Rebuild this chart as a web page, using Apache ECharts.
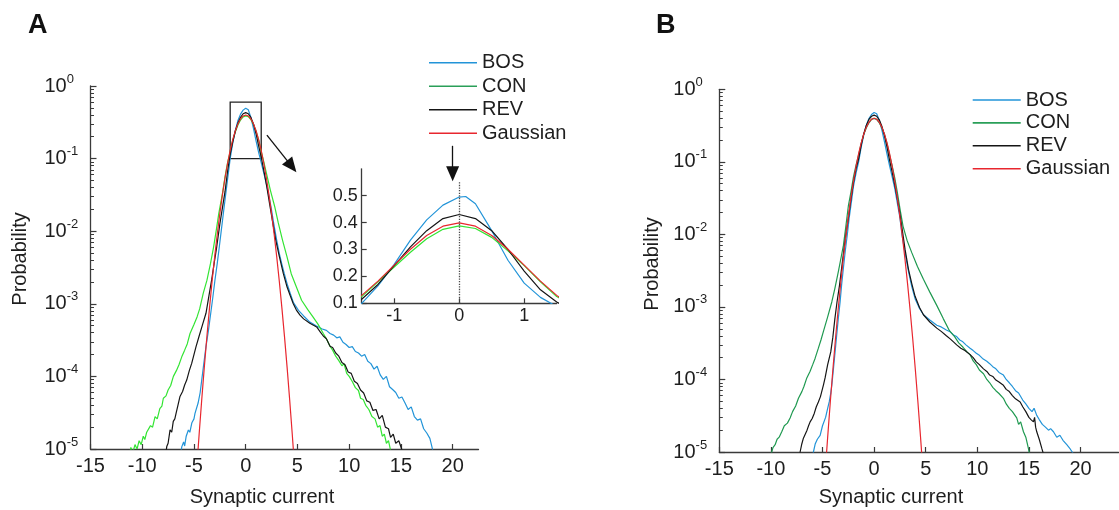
<!DOCTYPE html>
<html>
<head>
<meta charset="utf-8">
<script src="https://cdn.jsdelivr.net/npm/echarts@6/dist/echarts.min.js"></script>
<style>
  html, body { margin: 0; padding: 0; background: #fff; }
  #main { width: 1119px; height: 510px; }
</style>
</head>
<body>
<div id="main"></div>
<script>
// tick values
const xTicks = [-15, -10, -5, 0, 5, 10, 15, 20];
const decades = [1e-5, 1e-4, 1e-3, 1e-2, 1e-1, 1];
const insetXTicks = [-1, 0, 1];
const insetYTicks = [0.1, 0.2, 0.3, 0.4, 0.5];
const seriesNames = ['BOS', 'CON', 'REV', 'Gaussian'];

// Gaussian reference (same in both panels)
const gaussian = [[-4.75,5.05e-6],[-4.5,1.60e-5],[-4.25,4.78e-5],[-4,1.34e-4],[-3.75,3.53e-4],[-3.5,8.73e-4],
  [-3.25,2.03e-3],[-3,4.43e-3],[-2.75,9.09e-3],[-2.5,0.0175],[-2.25,0.0317],[-2,0.054],[-1.75,0.0863],
  [-1.5,0.1295],[-1.25,0.1826],[-1,0.242],[-0.75,0.3011],[-0.5,0.3521],[-0.25,0.3867],[0,0.3989],
  [0.25,0.3867],[0.5,0.3521],[0.75,0.3011],[1,0.242],[1.25,0.1826],[1.5,0.1295],[1.75,0.0863],[2,0.054],
  [2.25,0.0317],[2.5,0.0175],[2.75,9.09e-3],[3,4.43e-3],[3.25,2.03e-3],[3.5,8.73e-4],[3.75,3.53e-4],
  [4,1.34e-4],[4.25,4.78e-5],[4.5,1.60e-5],[4.75,5.05e-6]];

// panel A
const bosA = [[-6.3,8e-6],[-6.18,1.07e-5],[-6.0,1.25e-5],[-5.9,1.1e-5],[-5.75,1.5e-5],[-5.54,1.83e-5],[-5.4,1.7e-5],
  [-5.2,2.3e-5],[-5.0,2.6e-5],[-4.9,3.1e-5],[-4.75,3.0e-5],[-4.6,4.3e-5],[-4.51,4.3e-5],[-4.4,6.0e-5],[-4.25,8.9e-5],
  [-4.05,1.5e-4],[-3.84,2.57e-4],[-3.6,4.3e-4],[-3.38,7.4e-4],[-3.17,1.25e-3],[-2.97,2.13e-3],[-2.75,3.6e-3],
  [-2.55,6.1e-3],[-2.35,0.0105],[-2.16,0.0176],[-2.0,0.027],[-1.75,0.052],[-1.5,0.1],[-1.25,0.165],[-1,0.245],
  [-0.75,0.335],[-0.5,0.41],[-0.25,0.465],[0,0.495],[0.1,0.497],[0.25,0.47],[0.5,0.37],[0.75,0.26],[1,0.175],
  [1.25,0.122],[1.5,0.088],[1.75,0.063],[2.0,0.045],[2.25,0.03],[2.44,0.022],[2.7,0.013],[2.99,0.0076],[3.25,0.0049],
  [3.5,0.0035],[3.73,0.0026],[4.0,0.0019],[4.3,0.0014],[4.6,0.00105],[5.1,8.1e-4],[5.6,6.8e-4],[6.2,5.6e-4],
  [6.8,5.0e-4],[7.4,4.5e-4],[7.8,4.3e-4],[8.15,3.9e-4],[8.5,3.7e-4],[8.8,3.4e-4],[9.1,3.5e-4],[9.4,2.95e-4],
  [9.7,2.75e-4],[10.0,2.5e-4],[10.3,2.57e-4],[10.6,2.2e-4],[10.9,2.1e-4],[11.2,1.9e-4],[11.5,2.0e-4],[11.8,1.62e-4],
  [12.1,1.5e-4],[12.4,1.26e-4],[12.7,1.38e-4],[13.0,1.05e-4],[13.3,9.1e-5],[13.6,1.0e-4],[13.9,7.2e-5],[14.2,6.6e-5],
  [14.5,6.0e-5],[14.8,5.0e-5],[15.1,5.2e-5],[15.4,4.3e-5],[15.7,3.5e-5],[16.0,3.8e-5],[16.3,2.8e-5],[16.6,2.5e-5],
  [16.9,2.6e-5],[17.2,1.9e-5],[17.5,1.66e-5],[17.8,1.4e-5],[18.0,1.07e-5],[18.2,8e-6]];
const conA = [[-11.25,8e-6],[-11.1,1.05e-5],[-10.9,9e-6],[-10.7,1.15e-5],[-10.5,1.0e-5],[-10.3,1.3e-5],[-10.1,1.15e-5],
  [-9.9,1.5e-5],[-9.75,1.35e-5],[-9.57,1.7e-5],[-9.4,1.6e-5],[-9.2,2.1e-5],[-9.0,2.0e-5],[-8.76,2.8e-5],[-8.55,2.6e-5],
  [-8.3,3.6e-5],[-8.1,3.9e-5],[-7.96,5.0e-5],[-7.7,5.4e-5],[-7.5,6.5e-5],[-7.25,7.5e-5],[-6.99,1.0e-4],[-6.7,1.2e-4],
  [-6.45,1.45e-4],[-6.18,1.86e-4],[-5.9,2.3e-4],[-5.65,2.8e-4],[-5.38,3.9e-4],[-5.0,5.2e-4],[-4.7,6.6e-4],
  [-4.45,8.5e-4],[-4.1,1.4e-3],[-3.75,2.1e-3],[-3.4,3.6e-3],[-3.1,6.1e-3],[-2.85,0.0102],[-2.6,0.0176],[-2.25,0.033],
  [-2.0,0.056],[-1.75,0.088],[-1.5,0.125],[-1.25,0.18],[-1,0.235],[-0.75,0.29],[-0.5,0.34],[-0.25,0.375],[0,0.388],
  [0.25,0.378],[0.5,0.345],[0.75,0.295],[1,0.24],[1.25,0.18],[1.5,0.125],[1.75,0.09],[2.0,0.063],[2.4,0.036],
  [2.8,0.0219],[3.15,0.013],[3.55,0.0076],[4.0,0.0044],[4.4,0.0026],[4.9,0.0017],[5.4,0.00112],[6.0,8.3e-4],
  [6.5,6.6e-4],[7.0,5.2e-4],[7.5,3.9e-4],[7.8,3.3e-4],[8.15,2.6e-4],[8.4,2.3e-4],[8.7,1.9e-4],[9.0,1.65e-4],
  [9.3,1.4e-4],[9.5,1.5e-4],[9.76,1.1e-4],[10.0,1.0e-4],[10.3,8.5e-5],[10.6,7.0e-5],[10.9,6.4e-5],[11.1,5.0e-5],
  [11.36,4.8e-5],[11.6,4.0e-5],[11.9,3.5e-5],[12.2,2.8e-5],[12.5,2.6e-5],[12.75,2.0e-5],[12.98,2.1e-5],[13.2,1.5e-5],
  [13.4,1.6e-5],[13.6,1.2e-5],[13.8,1.3e-5],[13.94,1.05e-5],[14.1,8e-6]];
const revA = [[-7.75,8e-6],[-7.63,1.08e-5],[-7.5,1.2e-5],[-7.31,1.83e-5],[-7.15,1.7e-5],[-7.0,2.4e-5],[-6.85,2.6e-5],
  [-6.73,3.1e-5],[-6.55,4.0e-5],[-6.35,5.3e-5],[-6.1,6.2e-5],[-5.9,7.6e-5],[-5.7,8.9e-5],[-5.45,1.2e-4],[-5.22,1.51e-4],
  [-5.0,2.0e-4],[-4.8,2.57e-4],[-4.5,3.6e-4],[-4.2,5.0e-4],[-3.84,7.4e-4],[-3.55,1.3e-3],[-3.29,2.13e-3],[-3.05,3.6e-3],
  [-2.8,6.1e-3],[-2.5,0.0125],[-2.25,0.021],[-2.0,0.035],[-1.75,0.067],[-1.5,0.115],[-1.25,0.17],[-1,0.24],[-0.75,0.31],
  [-0.5,0.37],[-0.25,0.415],[0,0.43],[0.25,0.415],[0.5,0.37],[0.75,0.30],[1,0.22],[1.25,0.15],[1.5,0.105],[1.8,0.063],
  [2.05,0.04],[2.35,0.022],[2.6,0.0135],[2.9,0.0076],[3.25,0.0045],[3.64,0.0026],[4.0,0.0017],[4.3,0.0013],[4.6,0.001],
  [4.9,8.2e-4],[5.25,7.0e-4],[5.6,6.2e-4],[6.2,5.4e-4],[6.86,4.8e-4],[7.2,4.1e-4],[7.5,3.6e-4],[7.8,3.3e-4],
  [8.15,2.6e-4],[8.4,2.5e-4],[8.7,2.1e-4],[9.0,1.9e-4],[9.3,1.55e-4],[9.6,1.45e-4],[9.9,1.15e-4],[10.2,1.1e-4],
  [10.5,8.6e-5],[10.8,8.0e-5],[11.1,6.5e-5],[11.4,5.9e-5],[11.7,4.6e-5],[12.0,4.4e-5],[12.3,3.4e-5],[12.6,3.5e-5],
  [12.9,2.6e-5],[13.2,2.9e-5],[13.5,2.0e-5],[13.8,1.9e-5],[14.0,1.45e-5],[14.26,1.6e-5],[14.5,1.2e-5],[14.8,1.3e-5],
  [15.07,1.0e-5],[15.2,8e-6]];

// panel B
const bosB = [[-5.95,8.5e-6],[-5.88,1.0e-5],[-5.7,1.3e-5],[-5.5,1.5e-5],[-5.23,1.7e-5],[-5.0,2.3e-5],[-4.85,2.4e-5],
  [-4.7,3.0e-5],[-4.5,4.0e-5],[-4.35,4.9e-5],[-4.2,6.5e-5],[-4.1,8.3e-5],[-3.95,1.35e-4],[-3.78,2.4e-4],[-3.63,4.0e-4],
  [-3.47,6.9e-4],[-3.3,1.15e-3],[-3.15,2.0e-3],[-2.98,3.4e-3],[-2.8,5.8e-3],[-2.6,0.0098],[-2.42,0.0166],[-2.2,0.028],
  [-2.0,0.046],[-1.75,0.07],[-1.5,0.1],[-1.25,0.16],[-1.0,0.235],[-0.75,0.32],[-0.5,0.395],[-0.25,0.45],[0,0.478],
  [0.1,0.48],[0.25,0.46],[0.5,0.375],[0.75,0.275],[1.0,0.19],[1.25,0.128],[1.5,0.088],[1.75,0.062],[2.0,0.043],
  [2.25,0.027],[2.5,0.017],[2.7,0.0098],[3.0,0.0055],[3.33,0.0031],[3.65,0.0019],[3.97,0.0013],[4.4,9.5e-4],
  [4.78,7.8e-4],[5.4,6.6e-4],[6.07,5.6e-4],[6.5,5.3e-4],[7.0,4.8e-4],[7.4,4.5e-4],[7.69,4.1e-4],[8.0,3.9e-4],
  [8.3,3.5e-4],[8.6,3.3e-4],[8.9,3.0e-4],[9.3,2.7e-4],[9.6,2.5e-4],[9.9,2.3e-4],[10.2,2.15e-4],[10.5,1.95e-4],
  [10.92,1.78e-4],[11.2,1.65e-4],[11.5,1.5e-4],[11.8,1.4e-4],[12.1,1.25e-4],[12.53,1.15e-4],[12.8,1.0e-4],
  [13.1,9.0e-5],[13.4,8.0e-5],[13.7,7.0e-5],[14.0,6.5e-5],[14.15,6.2e-5],[14.4,5.2e-5],[14.7,4.6e-5],[15.0,4.0e-5],
  [15.3,3.6e-5],[15.5,4.0e-5],[15.76,3.2e-5],[16.0,2.8e-5],[16.3,2.4e-5],[16.6,2.2e-5],[16.9,2.0e-5],[17.1,2.1e-5],
  [17.38,1.9e-5],[17.7,1.6e-5],[18.0,1.7e-5],[18.3,1.45e-5],[18.67,1.26e-5],[19.0,1.1e-5],[19.3,9.5e-6],[19.4,8e-6]];
const conB = [[-10.0,8.5e-6],[-9.92,1.0e-5],[-9.8,1.15e-5],[-9.59,1.26e-5],[-9.4,1.5e-5],[-9.2,1.6e-5],[-8.95,1.9e-5],
  [-8.7,2.3e-5],[-8.4,2.5e-5],[-8.14,2.95e-5],[-7.9,3.6e-5],[-7.6,4.3e-5],[-7.33,5.5e-5],[-7.0,6.8e-5],[-6.8,8.0e-5],
  [-6.52,1.05e-4],[-6.2,1.3e-4],[-5.95,1.6e-4],[-5.72,1.95e-4],[-5.4,2.7e-4],[-5.15,3.5e-4],[-4.91,4.6e-4],
  [-4.5,7.3e-4],[-4.1,1.17e-3],[-3.8,1.8e-3],[-3.46,3.1e-3],[-3.2,4.8e-3],[-2.97,7.1e-3],[-2.75,0.0125],
  [-2.49,0.025],[-2.25,0.038],[-2.0,0.062],[-1.75,0.09],[-1.5,0.125],[-1.25,0.18],[-1,0.24],[-0.75,0.295],
  [-0.5,0.345],[-0.25,0.385],[0,0.398],[0.25,0.385],[0.5,0.345],[0.75,0.295],[1,0.24],[1.25,0.18],[1.5,0.125],
  [1.75,0.088],[2.0,0.06],[2.25,0.038],[2.52,0.022],[2.8,0.013],[3.2,0.0082],[3.65,0.0056],[4.2,0.0036],
  [4.78,0.0024],[5.4,0.0016],[6.07,0.00105],[6.7,6.9e-4],[7.3,4.7e-4],[7.8,3.9e-4],[8.2,3.2e-4],[8.6,2.8e-4],
  [9.0,2.4e-4],[9.3,2.2e-4],[9.6,1.8e-4],[9.9,1.6e-4],[10.2,1.35e-4],[10.6,1.2e-4],[10.92,1.0e-4],[11.2,9.0e-5],
  [11.5,7.8e-5],[11.8,7.0e-5],[12.1,6.4e-5],[12.53,5.5e-5],[12.8,4.6e-5],[13.1,4.0e-5],[13.4,3.6e-5],[13.82,2.95e-5],
  [14.0,2.4e-5],[14.2,2.6e-5],[14.47,1.9e-5],[14.7,1.6e-5],[14.95,1.12e-5],[15.05,9.5e-6],[15.1,8e-6]];
const revB = [[-7.25,8.5e-6],[-7.17,1.0e-5],[-7.0,1.3e-5],[-6.85,1.55e-5],[-6.7,1.6e-5],[-6.5,2.0e-5],[-6.35,2.3e-5],
  [-6.2,2.6e-5],[-6.0,2.9e-5],[-5.8,3.4e-5],[-5.6,4.2e-5],[-5.4,4.9e-5],[-5.2,5.8e-5],[-5.05,7.0e-5],[-4.9,8.5e-5],
  [-4.75,1.05e-4],[-4.5,1.6e-4],[-4.2,2.4e-4],[-4.0,3.8e-4],[-3.8,6.9e-4],[-3.6,1.15e-3],[-3.35,2.0e-3],
  [-3.15,3.4e-3],[-2.95,5.75e-3],[-2.75,9.5e-3],[-2.5,0.0166],[-2.25,0.03],[-2.0,0.052],[-1.75,0.08],[-1.5,0.11],
  [-1.25,0.17],[-1,0.245],[-0.75,0.32],[-0.5,0.385],[-0.25,0.425],[0,0.44],[0.25,0.425],[0.5,0.38],[0.75,0.31],
  [1,0.23],[1.25,0.16],[1.5,0.105],[1.75,0.072],[2.0,0.048],[2.25,0.031],[2.5,0.019],[2.75,0.011],[3.0,0.0062],
  [3.33,0.0033],[3.65,0.0021],[3.97,0.0014],[4.4,9.8e-4],[4.78,7.8e-4],[5.4,6.2e-4],[6.07,5.1e-4],[6.5,4.6e-4],
  [7.0,4.0e-4],[7.4,3.6e-4],[7.69,3.3e-4],[8.0,3.0e-4],[8.4,2.7e-4],[8.8,2.5e-4],[9.3,2.2e-4],[9.6,2.0e-4],
  [9.9,1.75e-4],[10.2,1.6e-4],[10.6,1.4e-4],[10.92,1.29e-4],[11.2,1.15e-4],[11.5,1.1e-4],[11.8,9.8e-5],[12.1,9.2e-5],
  [12.53,8.3e-5],[12.8,7.3e-5],[13.1,6.8e-5],[13.4,6.0e-5],[13.7,5.4e-5],[14.15,4.9e-5],[14.4,4.2e-5],[14.7,3.6e-5],
  [15.0,3.0e-5],[15.2,2.8e-5],[15.44,2.6e-5],[15.55,3.0e-5],[15.65,2.2e-5],[15.76,1.9e-5],[16.0,1.5e-5],
  [16.25,1.12e-5],[16.4,9.5e-6],[16.5,8e-6]];

const FONT = 'Arial, "Liberation Sans", Helvetica, sans-serif';
const AXIS = '#3a3a3a';
const TXT = '#1e1e1e';
const C = { bos: '#2294d8', conA: '#33e433', conB: '#1f9950', conLegend: '#2a9f58', rev: '#151515', gauss: '#e8262e' };

// minor log ticks 2..9 per decade
const minors = [];
for (let e = -5; e < 0; e++) for (let m = 2; m <= 9; m++) minors.push(m * Math.pow(10, e));

const chart = echarts.init(document.getElementById('main'));

function xAxisCfg(grid, max, ticks, fs, margin) {
  return {
    type: 'value', gridIndex: grid, min: ticks === xTicks ? -15 : -1.5, max: max,
    axisLine: { onZero: false, lineStyle: { color: AXIS, width: 1.3 } },
    axisTick: { inside: true, length: 5, customValues: ticks, lineStyle: { color: AXIS, width: 1.2 } },
    axisLabel: { customValues: ticks, margin: margin, fontSize: fs, fontFamily: FONT, color: TXT },
    splitLine: { show: false }
  };
}
function logAxisCfg(grid) {
  return {
    type: 'log', logBase: 10, gridIndex: grid, position: 'left', min: 1e-5, max: 1,
    axisLine: { onZero: false, lineStyle: { color: AXIS, width: 1.3 } },
    axisTick: { inside: true, length: 6, customValues: decades, lineStyle: { color: AXIS, width: 1.2 } },
    axisLabel: {
      customValues: decades, align: 'left', margin: 46,
      formatter: v => '{b|10}{e|' + Math.round(Math.log10(v)) + '}',
      rich: {
        b: { fontSize: 20, fontFamily: FONT, color: TXT },
        e: { fontSize: 13, fontFamily: FONT, color: TXT, padding: [0, 0, 14, 0] }
      }
    },
    splitLine: { show: false }
  };
}
function minorAxisCfg(grid) {
  return {
    type: 'log', logBase: 10, gridIndex: grid, position: 'left', offset: 0, min: 1e-5, max: 1,
    axisLine: { show: false, onZero: false }, axisLabel: { show: false }, splitLine: { show: false },
    axisTick: { inside: true, length: 3.5, customValues: minors, lineStyle: { color: AXIS, width: 1 } }
  };
}
function line(name, data, color, xi, yi, extra) {
  return Object.assign({
    type: 'line', name: name, data: data, xAxisIndex: xi, yAxisIndex: yi,
    symbol: 'none', showSymbol: false, clip: true, animation: false,
    lineStyle: { color: color, width: 1.2 }, itemStyle: { color: color }
  }, extra || {});
}
const dotted = (from, to) => ({
  silent: true, symbol: ['none', 'none'], label: { show: false }, animation: false,
  lineStyle: { type: 'dotted', color: '#4a4a4a', width: 1.3 },
  data: [[{ coord: from }, { coord: to }]]
});
function legendCfg(left, top, gap) {
  const colors = [C.bos, C.conLegend, C.rev, C.gauss];
  return {
    orient: 'vertical', left: left, top: top, padding: 0, itemWidth: 48, itemHeight: 1.6, itemGap: gap,
    selectedMode: false,
    textStyle: { fontSize: 20, lineHeight: 20, fontFamily: FONT, color: TXT },
    data: seriesNames.map((n, i) => ({ name: n, icon: 'rect', itemStyle: { color: colors[i] } }))
  };
}

const option = {
  backgroundColor: '#fff',
  animation: false,
  grid: [
    { left: 90.5, top: 86, width: 388, height: 363 },
    { left: 719.3, top: 89.3, width: 399.4, height: 362.7 },
    { left: 361.7, top: 168.8, width: 195, height: 134.5 }
  ],
  xAxis: [
    xAxisCfg(0, 22.5, xTicks, 20, 7),
    xAxisCfg(1, 23.7, xTicks, 20, 7),
    xAxisCfg(2, 1.5, insetXTicks, 18, 4)
  ],
  yAxis: [
    logAxisCfg(0), minorAxisCfg(0), logAxisCfg(1), minorAxisCfg(1),
    {
      type: 'value', gridIndex: 2, min: 0.1, max: 0.6,
      axisLine: { onZero: false, lineStyle: { color: AXIS, width: 1.3 } },
      axisTick: { inside: true, length: 5, customValues: insetYTicks, lineStyle: { color: AXIS, width: 1.2 } },
      axisLabel: { customValues: insetYTicks, margin: 4, fontSize: 18, fontFamily: FONT, color: TXT },
      splitLine: { show: false }
    }
  ],
  legend: [legendCfg(429, 52.7, 3.5), legendCfg(972.7, 90, 2.9)],
  series: [
    line('BOS', bosA, C.bos, 0, 0, {
      markArea: {
        silent: true, animation: false,
        itemStyle: { color: 'rgba(0,0,0,0)', borderColor: '#222', borderWidth: 1.3 },
        data: [[{ coord: [-1.5, 0.6] }, { coord: [1.5, 0.1] }]]
      },
      markLine: {
        silent: true, animation: false, label: { show: false },
        lineStyle: { type: 'solid', color: '#111', width: 1.3 },
        data: [
          [{ coord: [2.05, 0.21], symbol: 'none' }, { coord: [4.45, 0.078], symbol: 'triangle', symbolSize: [13, 15] }],
          [{ coord: [20, 0.15], symbol: 'none' }, { coord: [20, 0.062], symbol: 'triangle', symbolSize: [13, 15] }]
        ]
      }
    }),
    line('CON', conA, C.conA, 0, 0),
    line('REV', revA, C.rev, 0, 0),
    line('Gaussian', gaussian, C.gauss, 0, 0, { markLine: dotted([0, 1.18], [0, 1e-5]) }),
    line('BOS', bosB, C.bos, 1, 2),
    line('CON', conB, C.conB, 1, 2),
    line('REV', revB, C.rev, 1, 2),
    line('Gaussian', gaussian, C.gauss, 1, 2, { markLine: dotted([0, 1.18], [0, 1e-5]) }),
    line('BOS', bosA, C.bos, 2, 4),
    line('CON', conA, C.conA, 2, 4),
    line('REV', revA, C.rev, 2, 4),
    line('Gaussian', gaussian, C.gauss, 2, 4, { markLine: dotted([0, 0.55], [0, 0.1]) })
  ],
  graphic: [
    { type: 'text', x: 28, y: 26, style: { text: 'A', font: 'bold 27px ' + FONT, fill: '#111', align: 'left', verticalAlign: 'middle' } },
    { type: 'text', x: 656, y: 26, style: { text: 'B', font: 'bold 27px ' + FONT, fill: '#111', align: 'left', verticalAlign: 'middle' } },
    { type: 'text', x: 20, y: 259, rotation: Math.PI / 2, style: { text: 'Probability', font: '20px ' + FONT, fill: TXT, align: 'center', verticalAlign: 'middle' } },
    { type: 'text', x: 652, y: 264, rotation: Math.PI / 2, style: { text: 'Probability', font: '20px ' + FONT, fill: TXT, align: 'center', verticalAlign: 'middle' } },
    { type: 'text', x: 262, y: 497, style: { text: 'Synaptic current', font: '20px ' + FONT, fill: TXT, align: 'center', verticalAlign: 'middle' } },
    { type: 'text', x: 891, y: 497, style: { text: 'Synaptic current', font: '20px ' + FONT, fill: TXT, align: 'center', verticalAlign: 'middle' } }
  ]
};

chart.setOption(option);
</script>
</body>
</html>
